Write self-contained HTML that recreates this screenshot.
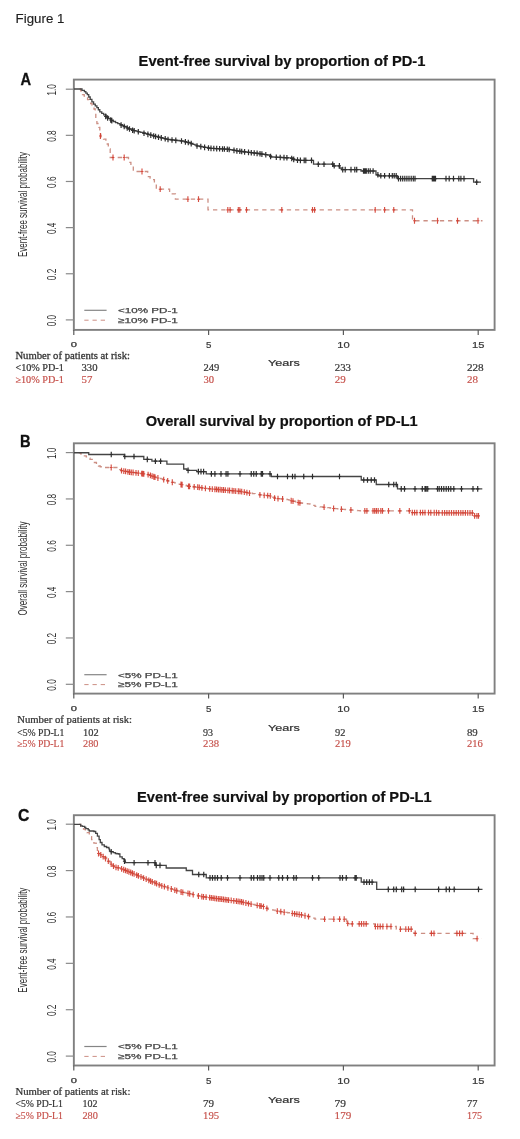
<!DOCTYPE html>
<html><head><meta charset="utf-8"><title>Figure 1</title>
<style>html,body{margin:0;padding:0;background:#fff;}body{width:520px;height:1139px;overflow:hidden;font-family:"Liberation Sans",sans-serif;}svg{display:block;will-change:transform;}</style>
</head><body>
<svg width="520" height="1139" viewBox="0 0 520 1139">
<rect width="520" height="1139" fill="#fff"/>
<text x="15.6" y="22.8" font-family="Liberation Sans" font-size="13.7" font-weight="normal" fill="#1e1e1e" text-anchor="start" textLength="48.8" lengthAdjust="spacingAndGlyphs" stroke="#1e1e1e" stroke-width="0.15" >Figure 1</text>
<rect x="73.85" y="79.6" width="420.75" height="250.3" fill="none" stroke="#808080" stroke-width="1.9"/>
<line x1="65.8" y1="319.90" x2="73.85" y2="319.90" stroke="#8a8a8a" stroke-width="1.2"/>
<text transform="translate(55.8,320.60) rotate(-90) scale(1,1.52)" font-family="Liberation Sans" font-size="8.2" fill="#333333" text-anchor="middle" textLength="11.4" lengthAdjust="spacingAndGlyphs">0.0</text>
<line x1="65.8" y1="273.76" x2="73.85" y2="273.76" stroke="#8a8a8a" stroke-width="1.2"/>
<text transform="translate(55.8,274.46) rotate(-90) scale(1,1.52)" font-family="Liberation Sans" font-size="8.2" fill="#333333" text-anchor="middle" textLength="11.4" lengthAdjust="spacingAndGlyphs">0.2</text>
<line x1="65.8" y1="227.62" x2="73.85" y2="227.62" stroke="#8a8a8a" stroke-width="1.2"/>
<text transform="translate(55.8,228.32) rotate(-90) scale(1,1.52)" font-family="Liberation Sans" font-size="8.2" fill="#333333" text-anchor="middle" textLength="11.4" lengthAdjust="spacingAndGlyphs">0.4</text>
<line x1="65.8" y1="181.48" x2="73.85" y2="181.48" stroke="#8a8a8a" stroke-width="1.2"/>
<text transform="translate(55.8,182.18) rotate(-90) scale(1,1.52)" font-family="Liberation Sans" font-size="8.2" fill="#333333" text-anchor="middle" textLength="11.4" lengthAdjust="spacingAndGlyphs">0.6</text>
<line x1="65.8" y1="135.34" x2="73.85" y2="135.34" stroke="#8a8a8a" stroke-width="1.2"/>
<text transform="translate(55.8,136.04) rotate(-90) scale(1,1.52)" font-family="Liberation Sans" font-size="8.2" fill="#333333" text-anchor="middle" textLength="11.4" lengthAdjust="spacingAndGlyphs">0.8</text>
<line x1="65.8" y1="89.20" x2="73.85" y2="89.20" stroke="#8a8a8a" stroke-width="1.2"/>
<text transform="translate(55.8,89.90) rotate(-90) scale(1,1.52)" font-family="Liberation Sans" font-size="8.2" fill="#333333" text-anchor="middle" textLength="11.4" lengthAdjust="spacingAndGlyphs">1.0</text>
<line x1="73.80" y1="329.9" x2="73.80" y2="334.9" stroke="#5a5a5a" stroke-width="1.2"/>
<text x="73.80" y="346.9" font-family="Liberation Sans" font-size="6.5" font-weight="normal" fill="#3a3a3a" text-anchor="middle" textLength="6.2" lengthAdjust="spacingAndGlyphs" stroke="#3a3a3a" stroke-width="0.25" >0</text>
<line x1="208.60" y1="329.9" x2="208.60" y2="334.9" stroke="#5a5a5a" stroke-width="1.2"/>
<text x="208.60" y="348.09999999999997" font-family="Liberation Sans" font-size="8.6" font-weight="normal" fill="#3a3a3a" text-anchor="middle" textLength="5.4" lengthAdjust="spacingAndGlyphs" stroke="#3a3a3a" stroke-width="0.2" >5</text>
<line x1="343.40" y1="329.9" x2="343.40" y2="334.9" stroke="#5a5a5a" stroke-width="1.2"/>
<text x="343.40" y="348.09999999999997" font-family="Liberation Sans" font-size="8.6" font-weight="normal" fill="#3a3a3a" text-anchor="middle" textLength="12.4" lengthAdjust="spacingAndGlyphs" stroke="#3a3a3a" stroke-width="0.2" >10</text>
<line x1="478.20" y1="329.9" x2="478.20" y2="334.9" stroke="#5a5a5a" stroke-width="1.2"/>
<text x="478.20" y="348.09999999999997" font-family="Liberation Sans" font-size="8.6" font-weight="normal" fill="#3a3a3a" text-anchor="middle" textLength="12.4" lengthAdjust="spacingAndGlyphs" stroke="#3a3a3a" stroke-width="0.2" >15</text>
<text x="267.9" y="366.3" font-family="Liberation Sans" font-size="8.3" font-weight="normal" fill="#333" text-anchor="start" textLength="31.9" lengthAdjust="spacingAndGlyphs" stroke="#333" stroke-width="0.2" >Years</text>
<text transform="translate(27.1,204.55) rotate(-90) scale(1,1.52)" font-family="Liberation Sans" font-size="8.1" fill="#333333" text-anchor="middle" textLength="105" lengthAdjust="spacingAndGlyphs">Event-free survival probability</text>
<text x="138.6" y="66.0" font-family="Liberation Sans" font-size="14" font-weight="bold" fill="#111" text-anchor="start" textLength="286.8" lengthAdjust="spacingAndGlyphs" stroke="#111" stroke-width="0.2" >Event-free survival by proportion of PD-1</text>
<text x="20.4" y="84.8" font-family="Liberation Sans" font-size="17.2" font-weight="bold" fill="#111" text-anchor="start" textLength="10.6" lengthAdjust="spacingAndGlyphs" stroke="#111" stroke-width="0.3" >A</text>
<line x1="84.3" y1="310.30" x2="106.6" y2="310.30" stroke="#858585" stroke-width="1.2"/>
<line x1="84.3" y1="320.20" x2="106.6" y2="320.20" stroke="#cc8f84" stroke-width="1" stroke-dasharray="4.3 3.9"/>
<text x="118.0" y="313.09999999999997" font-family="Liberation Sans" font-size="7.7" font-weight="normal" fill="#444" text-anchor="start" textLength="59.8" lengthAdjust="spacingAndGlyphs" stroke="#444" stroke-width="0.25" >&lt;10% PD-1</text>
<text x="118.0" y="322.5" font-family="Liberation Sans" font-size="7.7" font-weight="normal" fill="#444" text-anchor="start" textLength="59.8" lengthAdjust="spacingAndGlyphs" stroke="#444" stroke-width="0.25" >≥10% PD-1</text>
<rect x="73.85" y="443.3" width="420.75" height="250.3" fill="none" stroke="#808080" stroke-width="1.9"/>
<line x1="65.8" y1="684.30" x2="73.85" y2="684.30" stroke="#8a8a8a" stroke-width="1.2"/>
<text transform="translate(55.8,685.00) rotate(-90) scale(1,1.52)" font-family="Liberation Sans" font-size="8.2" fill="#333333" text-anchor="middle" textLength="11.4" lengthAdjust="spacingAndGlyphs">0.0</text>
<line x1="65.8" y1="637.96" x2="73.85" y2="637.96" stroke="#8a8a8a" stroke-width="1.2"/>
<text transform="translate(55.8,638.66) rotate(-90) scale(1,1.52)" font-family="Liberation Sans" font-size="8.2" fill="#333333" text-anchor="middle" textLength="11.4" lengthAdjust="spacingAndGlyphs">0.2</text>
<line x1="65.8" y1="591.62" x2="73.85" y2="591.62" stroke="#8a8a8a" stroke-width="1.2"/>
<text transform="translate(55.8,592.32) rotate(-90) scale(1,1.52)" font-family="Liberation Sans" font-size="8.2" fill="#333333" text-anchor="middle" textLength="11.4" lengthAdjust="spacingAndGlyphs">0.4</text>
<line x1="65.8" y1="545.28" x2="73.85" y2="545.28" stroke="#8a8a8a" stroke-width="1.2"/>
<text transform="translate(55.8,545.98) rotate(-90) scale(1,1.52)" font-family="Liberation Sans" font-size="8.2" fill="#333333" text-anchor="middle" textLength="11.4" lengthAdjust="spacingAndGlyphs">0.6</text>
<line x1="65.8" y1="498.94" x2="73.85" y2="498.94" stroke="#8a8a8a" stroke-width="1.2"/>
<text transform="translate(55.8,499.64) rotate(-90) scale(1,1.52)" font-family="Liberation Sans" font-size="8.2" fill="#333333" text-anchor="middle" textLength="11.4" lengthAdjust="spacingAndGlyphs">0.8</text>
<line x1="65.8" y1="452.60" x2="73.85" y2="452.60" stroke="#8a8a8a" stroke-width="1.2"/>
<text transform="translate(55.8,453.30) rotate(-90) scale(1,1.52)" font-family="Liberation Sans" font-size="8.2" fill="#333333" text-anchor="middle" textLength="11.4" lengthAdjust="spacingAndGlyphs">1.0</text>
<line x1="73.80" y1="693.6" x2="73.80" y2="698.6" stroke="#5a5a5a" stroke-width="1.2"/>
<text x="73.80" y="710.6" font-family="Liberation Sans" font-size="6.5" font-weight="normal" fill="#3a3a3a" text-anchor="middle" textLength="6.2" lengthAdjust="spacingAndGlyphs" stroke="#3a3a3a" stroke-width="0.25" >0</text>
<line x1="208.60" y1="693.6" x2="208.60" y2="698.6" stroke="#5a5a5a" stroke-width="1.2"/>
<text x="208.60" y="711.8000000000001" font-family="Liberation Sans" font-size="8.6" font-weight="normal" fill="#3a3a3a" text-anchor="middle" textLength="5.4" lengthAdjust="spacingAndGlyphs" stroke="#3a3a3a" stroke-width="0.2" >5</text>
<line x1="343.40" y1="693.6" x2="343.40" y2="698.6" stroke="#5a5a5a" stroke-width="1.2"/>
<text x="343.40" y="711.8000000000001" font-family="Liberation Sans" font-size="8.6" font-weight="normal" fill="#3a3a3a" text-anchor="middle" textLength="12.4" lengthAdjust="spacingAndGlyphs" stroke="#3a3a3a" stroke-width="0.2" >10</text>
<line x1="478.20" y1="693.6" x2="478.20" y2="698.6" stroke="#5a5a5a" stroke-width="1.2"/>
<text x="478.20" y="711.8000000000001" font-family="Liberation Sans" font-size="8.6" font-weight="normal" fill="#3a3a3a" text-anchor="middle" textLength="12.4" lengthAdjust="spacingAndGlyphs" stroke="#3a3a3a" stroke-width="0.2" >15</text>
<text x="267.9" y="730.6999999999999" font-family="Liberation Sans" font-size="8.3" font-weight="normal" fill="#333" text-anchor="start" textLength="31.9" lengthAdjust="spacingAndGlyphs" stroke="#333" stroke-width="0.2" >Years</text>
<text transform="translate(27.1,568.45) rotate(-90) scale(1,1.52)" font-family="Liberation Sans" font-size="8.1" fill="#333333" text-anchor="middle" textLength="94" lengthAdjust="spacingAndGlyphs">Overall survival probability</text>
<text x="145.70000000000002" y="426.20000000000005" font-family="Liberation Sans" font-size="14" font-weight="bold" fill="#111" text-anchor="start" textLength="272.0" lengthAdjust="spacingAndGlyphs" stroke="#111" stroke-width="0.2" >Overall survival by proportion of PD-L1</text>
<text x="20" y="447.0" font-family="Liberation Sans" font-size="17.2" font-weight="bold" fill="#111" text-anchor="start" textLength="10.6" lengthAdjust="spacingAndGlyphs" stroke="#111" stroke-width="0.3" >B</text>
<line x1="84.3" y1="674.70" x2="106.6" y2="674.70" stroke="#858585" stroke-width="1.2"/>
<line x1="84.3" y1="684.60" x2="106.6" y2="684.60" stroke="#cc8f84" stroke-width="1" stroke-dasharray="4.3 3.9"/>
<text x="118.0" y="677.5" font-family="Liberation Sans" font-size="7.7" font-weight="normal" fill="#444" text-anchor="start" textLength="59.8" lengthAdjust="spacingAndGlyphs" stroke="#444" stroke-width="0.25" >&lt;5% PD-L1</text>
<text x="118.0" y="686.9" font-family="Liberation Sans" font-size="7.7" font-weight="normal" fill="#444" text-anchor="start" textLength="59.8" lengthAdjust="spacingAndGlyphs" stroke="#444" stroke-width="0.25" >≥5% PD-L1</text>
<rect x="73.85" y="815.2" width="420.75" height="250.3" fill="none" stroke="#808080" stroke-width="1.9"/>
<line x1="65.8" y1="1056.10" x2="73.85" y2="1056.10" stroke="#8a8a8a" stroke-width="1.2"/>
<text transform="translate(55.8,1056.80) rotate(-90) scale(1,1.52)" font-family="Liberation Sans" font-size="8.2" fill="#333333" text-anchor="middle" textLength="11.4" lengthAdjust="spacingAndGlyphs">0.0</text>
<line x1="65.8" y1="1009.72" x2="73.85" y2="1009.72" stroke="#8a8a8a" stroke-width="1.2"/>
<text transform="translate(55.8,1010.42) rotate(-90) scale(1,1.52)" font-family="Liberation Sans" font-size="8.2" fill="#333333" text-anchor="middle" textLength="11.4" lengthAdjust="spacingAndGlyphs">0.2</text>
<line x1="65.8" y1="963.34" x2="73.85" y2="963.34" stroke="#8a8a8a" stroke-width="1.2"/>
<text transform="translate(55.8,964.04) rotate(-90) scale(1,1.52)" font-family="Liberation Sans" font-size="8.2" fill="#333333" text-anchor="middle" textLength="11.4" lengthAdjust="spacingAndGlyphs">0.4</text>
<line x1="65.8" y1="916.96" x2="73.85" y2="916.96" stroke="#8a8a8a" stroke-width="1.2"/>
<text transform="translate(55.8,917.66) rotate(-90) scale(1,1.52)" font-family="Liberation Sans" font-size="8.2" fill="#333333" text-anchor="middle" textLength="11.4" lengthAdjust="spacingAndGlyphs">0.6</text>
<line x1="65.8" y1="870.58" x2="73.85" y2="870.58" stroke="#8a8a8a" stroke-width="1.2"/>
<text transform="translate(55.8,871.28) rotate(-90) scale(1,1.52)" font-family="Liberation Sans" font-size="8.2" fill="#333333" text-anchor="middle" textLength="11.4" lengthAdjust="spacingAndGlyphs">0.8</text>
<line x1="65.8" y1="824.20" x2="73.85" y2="824.20" stroke="#8a8a8a" stroke-width="1.2"/>
<text transform="translate(55.8,824.90) rotate(-90) scale(1,1.52)" font-family="Liberation Sans" font-size="8.2" fill="#333333" text-anchor="middle" textLength="11.4" lengthAdjust="spacingAndGlyphs">1.0</text>
<line x1="73.80" y1="1065.5" x2="73.80" y2="1070.5" stroke="#5a5a5a" stroke-width="1.2"/>
<text x="73.80" y="1082.5" font-family="Liberation Sans" font-size="6.5" font-weight="normal" fill="#3a3a3a" text-anchor="middle" textLength="6.2" lengthAdjust="spacingAndGlyphs" stroke="#3a3a3a" stroke-width="0.25" >0</text>
<line x1="208.60" y1="1065.5" x2="208.60" y2="1070.5" stroke="#5a5a5a" stroke-width="1.2"/>
<text x="208.60" y="1083.7" font-family="Liberation Sans" font-size="8.6" font-weight="normal" fill="#3a3a3a" text-anchor="middle" textLength="5.4" lengthAdjust="spacingAndGlyphs" stroke="#3a3a3a" stroke-width="0.2" >5</text>
<line x1="343.40" y1="1065.5" x2="343.40" y2="1070.5" stroke="#5a5a5a" stroke-width="1.2"/>
<text x="343.40" y="1083.7" font-family="Liberation Sans" font-size="8.6" font-weight="normal" fill="#3a3a3a" text-anchor="middle" textLength="12.4" lengthAdjust="spacingAndGlyphs" stroke="#3a3a3a" stroke-width="0.2" >10</text>
<line x1="478.20" y1="1065.5" x2="478.20" y2="1070.5" stroke="#5a5a5a" stroke-width="1.2"/>
<text x="478.20" y="1083.7" font-family="Liberation Sans" font-size="8.6" font-weight="normal" fill="#3a3a3a" text-anchor="middle" textLength="12.4" lengthAdjust="spacingAndGlyphs" stroke="#3a3a3a" stroke-width="0.2" >15</text>
<text x="267.9" y="1102.8" font-family="Liberation Sans" font-size="8.3" font-weight="normal" fill="#333" text-anchor="start" textLength="31.9" lengthAdjust="spacingAndGlyphs" stroke="#333" stroke-width="0.2" >Years</text>
<text transform="translate(27.1,940.15) rotate(-90) scale(1,1.52)" font-family="Liberation Sans" font-size="8.1" fill="#333333" text-anchor="middle" textLength="105" lengthAdjust="spacingAndGlyphs">Event-free survival probability</text>
<text x="137.1" y="801.8000000000001" font-family="Liberation Sans" font-size="14" font-weight="bold" fill="#111" text-anchor="start" textLength="294.6" lengthAdjust="spacingAndGlyphs" stroke="#111" stroke-width="0.2" >Event-free survival by proportion of PD-L1</text>
<text x="18.0" y="820.6" font-family="Liberation Sans" font-size="17.2" font-weight="bold" fill="#111" text-anchor="start" textLength="11.4" lengthAdjust="spacingAndGlyphs" stroke="#111" stroke-width="0.3" >C</text>
<line x1="84.3" y1="1046.50" x2="106.6" y2="1046.50" stroke="#858585" stroke-width="1.2"/>
<line x1="84.3" y1="1056.40" x2="106.6" y2="1056.40" stroke="#cc8f84" stroke-width="1" stroke-dasharray="4.3 3.9"/>
<text x="118.0" y="1049.3" font-family="Liberation Sans" font-size="7.7" font-weight="normal" fill="#444" text-anchor="start" textLength="59.8" lengthAdjust="spacingAndGlyphs" stroke="#444" stroke-width="0.25" >&lt;5% PD-L1</text>
<text x="118.0" y="1058.6999999999998" font-family="Liberation Sans" font-size="7.7" font-weight="normal" fill="#444" text-anchor="start" textLength="59.8" lengthAdjust="spacingAndGlyphs" stroke="#444" stroke-width="0.25" >≥5% PD-L1</text>
<polyline points="79.60,89.00 80.60,89.00 80.60,90.80 82.50,90.80 82.50,94.60 84.20,94.60 84.20,96.05 85.90,96.05 85.90,97.50 87.55,97.50 87.55,99.65 89.20,99.65 89.20,101.80 90.65,101.80 90.65,103.50 92.10,103.50 92.10,105.20 94.00,105.20 94.00,109.00 95.20,109.00 95.20,113.80 95.80,113.80 95.80,118.70 96.90,118.70 96.90,123.50 98.80,123.50 98.80,127.30 99.80,127.30 99.80,133.10 100.80,133.10 100.80,137.90 102.15,137.90 102.15,138.55 103.50,138.55 103.50,139.20 105.90,139.20 105.90,144.00 108.30,144.00 108.30,148.80 110.20,148.80 110.20,157.50 126.50,157.50 128.50,157.50 128.50,162.30 130.90,162.30 130.90,166.15 133.30,166.15 133.30,170.00 133.30,171.50 145.80,171.50 147.70,171.50 147.70,176.70 150.10,176.70 150.10,178.15 152.50,178.15 152.50,179.60 154.40,179.60 154.40,182.50 156.30,182.50 156.30,185.40 156.30,189.20 168.50,189.20 169.60,189.20 169.60,193.80 175.40,193.80 175.40,199.20 208.00,199.20 208.00,209.80 412.50,209.80 412.50,220.75 482.50,220.75" fill="none" stroke="#cc8f84" stroke-width="1.3" stroke-dasharray="4.3 3.9" stroke-opacity="1" stroke-linejoin="miter"/>
<path d="M100.40 133.08V138.88M99.00 135.98H101.80M113.00 154.60V160.40M111.60 157.50H114.40M124.20 154.60V160.40M122.80 157.50H125.60M142.00 168.60V174.40M140.60 171.50H143.40M160.20 186.30V192.10M158.80 189.20H161.60M187.90 196.30V202.10M186.50 199.20H189.30M198.50 196.30V202.10M197.10 199.20H199.90M227.80 206.90V212.70M226.40 209.80H229.20M230.10 206.90V212.70M228.70 209.80H231.50M238.30 206.90V212.70M236.90 209.80H239.70M239.80 206.90V212.70M238.40 209.80H241.20M246.50 206.90V212.70M245.10 209.80H247.90M281.80 206.90V212.70M280.40 209.80H283.20M312.50 206.90V212.70M311.10 209.80H313.90M314.60 206.90V212.70M313.20 209.80H316.00M375.20 206.90V212.70M373.80 209.80H376.60M384.60 206.90V212.70M383.20 209.80H386.00M393.75 206.90V212.70M392.35 209.80H395.15M414.50 217.85V223.65M413.10 220.75H415.90M437.50 217.85V223.65M436.10 220.75H438.90M457.50 217.85V223.65M456.10 220.75H458.90M478.00 217.85V223.65M476.60 220.75H479.40" fill="none" stroke="#d23a2c" stroke-width="1.15" stroke-opacity="0.9"/>
<polyline points="73.80,89.00 79.60,89.00 82.00,89.00 82.00,90.35 84.40,90.35 84.40,91.70 85.85,91.70 85.85,93.15 87.30,93.15 87.30,94.60 88.75,94.60 88.75,97.00 90.20,97.00 90.20,99.40 91.90,99.40 91.90,101.80 93.60,101.80 93.60,104.20 95.25,104.20 95.25,105.90 96.90,105.90 96.90,107.60 98.35,107.60 98.35,109.75 99.80,109.75 99.80,111.90 101.75,111.90 101.75,113.35 103.70,113.35 103.70,114.80 106.10,114.80 106.10,116.75 108.50,116.75 108.50,118.70 110.90,118.70 110.90,120.10 113.30,120.10 113.30,121.50 115.53,121.50 115.53,122.53 117.77,122.53 117.77,123.57 120.00,123.57 120.00,124.60 122.30,124.60 122.30,125.68 124.60,125.68 124.60,126.76 126.90,126.76 126.90,127.84 129.20,127.84 129.20,128.92 131.50,128.92 131.50,130.00 133.80,130.00 133.80,130.60 136.10,130.60 136.10,131.20 138.40,131.20 138.40,131.80 140.70,131.80 140.70,132.40 143.00,132.40 143.00,133.00 145.52,133.00 145.52,133.70 148.04,133.70 148.04,134.40 150.56,134.40 150.56,135.10 153.08,135.10 153.08,135.80 155.60,135.80 155.60,136.50 158.08,136.50 158.08,137.10 160.56,137.10 160.56,137.70 163.04,137.70 163.04,138.30 165.52,138.30 165.52,138.90 168.00,138.90 168.00,139.50 170.25,139.50 170.25,139.75 172.50,139.75 172.50,140.00 174.75,140.00 174.75,140.25 177.00,140.25 177.00,140.50 179.25,140.50 179.25,140.75 181.50,140.75 181.50,141.00 184.00,141.00 184.00,141.57 186.50,141.57 186.50,142.13 189.00,142.13 189.00,142.70 191.00,142.70 191.00,143.52 193.00,143.52 193.00,144.35 195.00,144.35 195.00,145.18 197.00,145.18 197.00,146.00 199.60,146.00 199.60,146.46 202.20,146.46 202.20,146.92 204.80,146.92 204.80,147.38 207.40,147.38 207.40,147.84 210.00,147.84 210.00,148.30 212.47,148.30 212.47,148.43 214.94,148.43 214.94,148.56 217.41,148.56 217.41,148.69 219.89,148.69 219.89,148.81 222.36,148.81 222.36,148.94 224.83,148.94 224.83,149.07 227.30,149.07 227.30,149.20 229.60,149.20 229.60,149.60 231.90,149.60 231.90,150.00 234.20,150.00 234.20,150.40 236.50,150.40 236.50,150.80 238.80,150.80 238.80,151.20 241.20,151.20 241.20,151.49 243.60,151.49 243.60,151.77 246.00,151.77 246.00,152.06 248.40,152.06 248.40,152.35 250.80,152.35 250.80,152.64 253.20,152.64 253.20,152.93 255.60,152.93 255.60,153.21 258.00,153.21 258.00,153.50 260.43,153.50 260.43,153.88 262.85,153.88 262.85,154.25 265.27,154.25 265.27,154.62 267.70,154.62 267.70,155.00 269.60,155.00 269.60,156.00 271.50,156.00 271.50,157.00 273.91,157.00 273.91,157.12 276.32,157.12 276.32,157.25 278.74,157.25 278.74,157.38 281.15,157.38 281.15,157.50 283.56,157.50 283.56,157.62 285.98,157.62 285.98,157.75 288.39,157.75 288.39,157.88 290.80,157.88 290.80,158.00 292.70,158.00 292.70,158.90 294.60,158.90 294.60,159.80 296.40,159.80 296.40,160.00 298.20,160.00 298.20,160.20 300.00,160.20 300.00,160.40 313.50,160.40 313.50,164.20 333.00,164.20 333.00,165.80 339.40,165.80 339.40,168.00 341.30,168.00 341.30,169.60 361.00,169.60 361.00,171.00 376.00,171.00 376.00,174.80 378.00,174.80 378.00,175.80 397.40,175.80 397.40,178.60 473.60,178.60 473.60,182.20 481.00,182.20" fill="none" stroke="#444444" stroke-width="1.3" stroke-opacity="1" stroke-linejoin="miter"/>
<path d="M105.70 113.62V119.22M104.10 116.42H107.30M107.60 115.17V120.77M106.00 117.97H109.20M110.70 117.18V122.78M109.10 119.98H112.30M111.80 117.83V123.42M110.20 120.62H113.40M121.10 122.32V127.92M119.50 125.12H122.70M124.20 123.77V129.37M122.60 126.57H125.80M127.20 125.18V130.78M125.60 127.98H128.80M129.50 126.26V131.86M127.90 129.06H131.10M132.60 127.49V133.09M131.00 130.29H134.20M134.20 127.90V133.50M132.60 130.70H135.80M138.30 128.97V134.57M136.70 131.77H139.90M144.00 130.48V136.08M142.40 133.28H145.60M147.90 131.56V137.16M146.30 134.36H149.50M150.80 132.37V137.97M149.20 135.17H152.40M153.70 133.17V138.77M152.10 135.97H155.30M155.60 133.70V139.30M154.00 136.50H157.20M158.50 134.40V140.00M156.90 137.20H160.10M161.30 135.08V140.68M159.70 137.88H162.90M165.20 136.02V141.62M163.60 138.82H166.80M168.00 136.70V142.30M166.40 139.50H169.60M172.00 137.14V142.74M170.40 139.94H173.60M175.80 137.57V143.17M174.20 140.37H177.40M181.50 138.20V143.80M179.90 141.00H183.10M185.40 139.08V144.68M183.80 141.88H187.00M188.30 139.74V145.34M186.70 142.54H189.90M191.20 140.81V146.41M189.60 143.61H192.80M197.00 143.20V148.80M195.40 146.00H198.60M200.80 143.87V149.47M199.20 146.67H202.40M204.60 144.54V150.14M203.00 147.34H206.20M208.50 145.23V150.83M206.90 148.03H210.10M211.00 145.55V151.15M209.40 148.35H212.60M213.80 145.70V151.30M212.20 148.50H215.40M216.70 145.85V151.45M215.10 148.65H218.30M219.60 146.00V151.60M218.00 148.80H221.20M222.50 146.15V151.75M220.90 148.95H224.10M224.40 146.25V151.85M222.80 149.05H226.00M227.30 146.40V152.00M225.70 149.20H228.90M229.20 146.73V152.33M227.60 149.53H230.80M234.00 147.57V153.17M232.40 150.37H235.60M236.90 148.07V153.67M235.30 150.87H238.50M239.80 148.52V154.12M238.20 151.32H241.40M241.70 148.75V154.35M240.10 151.55H243.30M244.60 149.09V154.69M243.00 151.89H246.20M248.50 149.56V155.16M246.90 152.36H250.10M251.30 149.90V155.50M249.70 152.70H252.90M254.20 150.24V155.84M252.60 153.04H255.80M257.10 150.59V156.19M255.50 153.39H258.70M260.00 151.01V156.61M258.40 153.81H261.60M261.90 151.30V156.90M260.30 154.10H263.50M265.80 151.91V157.51M264.20 154.71H267.40M270.60 153.73V159.33M269.00 156.53H272.20M276.30 154.45V160.05M274.70 157.25H277.90M280.20 154.65V160.25M278.60 157.45H281.80M284.00 154.85V160.45M282.40 157.65H285.60M286.90 155.00V160.60M285.30 157.80H288.50M291.70 155.63V161.23M290.10 158.43H293.30M293.70 156.57V162.17M292.10 159.37H295.30M297.50 157.32V162.92M295.90 160.12H299.10M300.40 157.60V163.20M298.80 160.40H302.00M304.20 157.60V163.20M302.60 160.40H305.80M305.80 157.60V163.20M304.20 160.40H307.40M311.50 157.60V163.20M309.90 160.40H313.10M318.30 161.40V167.00M316.70 164.20H319.90M324.00 161.40V167.00M322.40 164.20H325.60M332.70 161.40V167.00M331.10 164.20H334.30M334.20 163.00V168.60M332.60 165.80H335.80M339.40 163.00V168.60M337.80 165.80H341.00M342.70 166.80V172.40M341.10 169.60H344.30M345.20 166.80V172.40M343.60 169.60H346.80M351.00 166.80V172.40M349.40 169.60H352.60M354.80 166.80V172.40M353.20 169.60H356.40M356.70 166.80V172.40M355.10 169.60H358.30M363.50 168.20V173.80M361.90 171.00H365.10M364.50 168.20V173.80M362.90 171.00H366.10M365.50 168.20V173.80M363.90 171.00H367.10M366.30 168.20V173.80M364.70 171.00H367.90M368.30 168.20V173.80M366.70 171.00H369.90M370.20 168.20V173.80M368.60 171.00H371.80M373.10 168.20V173.80M371.50 171.00H374.70M377.90 172.00V177.60M376.30 174.80H379.50M380.80 173.00V178.60M379.20 175.80H382.40M384.60 173.00V178.60M383.00 175.80H386.20M389.40 173.00V178.60M387.80 175.80H391.00M392.30 173.00V178.60M390.70 175.80H393.90M394.20 173.00V178.60M392.60 175.80H395.80M396.20 173.00V178.60M394.60 175.80H397.80M398.50 175.80V181.40M396.90 178.60H400.10M400.60 175.80V181.40M399.00 178.60H402.20M402.70 175.80V181.40M401.10 178.60H404.30M404.80 175.80V181.40M403.20 178.60H406.40M406.90 175.80V181.40M405.30 178.60H408.50M409.00 175.80V181.40M407.40 178.60H410.60M411.20 175.80V181.40M409.60 178.60H412.80M413.30 175.80V181.40M411.70 178.60H414.90M415.00 175.80V181.40M413.40 178.60H416.60M432.30 175.80V181.40M430.70 178.60H433.90M433.30 175.80V181.40M431.70 178.60H434.90M434.30 175.80V181.40M432.70 178.60H435.90M435.50 175.80V181.40M433.90 178.60H437.10M446.00 175.80V181.40M444.40 178.60H447.60M449.20 175.80V181.40M447.60 178.60H450.80M453.50 175.80V181.40M451.90 178.60H455.10M458.80 175.80V181.40M457.20 178.60H460.40M460.90 175.80V181.40M459.30 178.60H462.50M464.00 175.80V181.40M462.40 178.60H465.60M476.70 179.40V185.00M475.10 182.20H478.30" fill="none" stroke="#2e2e2e" stroke-width="1.2" stroke-opacity="1"/>
<polyline points="78.75,452.75 80.62,452.75 80.62,453.88 82.50,453.88 82.50,455.00 84.38,455.00 84.38,455.95 86.25,455.95 86.25,456.90 88.12,456.90 88.12,458.15 90.00,458.15 90.00,459.40 92.20,459.40 92.20,460.95 94.40,460.95 94.40,462.50 96.45,462.50 96.45,464.25 98.50,464.25 98.50,466.00 100.20,466.00 100.20,466.75 101.90,466.75 101.90,467.50 116.90,467.50 118.10,467.50 118.10,468.80 119.80,468.80 119.80,469.70 121.50,469.70 121.50,470.60 123.53,470.60 123.53,470.98 125.55,470.98 125.55,471.35 127.57,471.35 127.57,471.73 129.60,471.73 129.60,472.10 131.92,472.10 131.92,472.38 134.24,472.38 134.24,472.66 136.56,472.66 136.56,472.94 138.88,472.94 138.88,473.22 141.20,473.22 141.20,473.50 143.50,473.50 143.50,473.87 145.80,473.87 145.80,474.23 148.10,474.23 148.10,474.60 150.40,474.60 150.40,475.47 152.70,475.47 152.70,476.33 155.00,476.33 155.00,477.20 157.03,477.20 157.03,477.75 159.05,477.75 159.05,478.30 161.07,478.30 161.07,478.85 163.10,478.85 163.10,479.40 165.00,479.40 165.00,480.00 166.90,480.00 166.90,480.60 168.80,480.60 168.80,481.20 170.73,481.20 170.73,481.77 172.67,481.77 172.67,482.33 174.60,482.33 174.60,482.90 176.90,482.90 176.90,483.47 179.20,483.47 179.20,484.03 181.50,484.03 181.50,484.60 183.83,484.60 183.83,485.17 186.17,485.17 186.17,485.73 188.50,485.73 188.50,486.30 190.80,486.30 190.80,486.52 193.10,486.52 193.10,486.75 195.40,486.75 195.40,486.98 197.70,486.98 197.70,487.20 200.13,487.20 200.13,487.60 202.57,487.60 202.57,488.00 205.00,488.00 205.00,488.40 207.50,488.40 207.50,488.62 210.00,488.62 210.00,488.83 212.50,488.83 212.50,489.05 215.00,489.05 215.00,489.27 217.50,489.27 217.50,489.48 220.00,489.48 220.00,489.70 222.50,489.70 222.50,489.91 225.00,489.91 225.00,490.12 227.50,490.12 227.50,490.34 230.00,490.34 230.00,490.55 232.50,490.55 232.50,490.76 235.00,490.76 235.00,490.97 237.50,490.97 237.50,491.19 240.00,491.19 240.00,491.40 242.50,491.40 242.50,491.85 245.00,491.85 245.00,492.30 247.50,492.30 247.50,492.75 250.00,492.75 250.00,493.20 252.50,493.20 252.50,493.62 255.00,493.62 255.00,494.05 257.50,494.05 257.50,494.47 260.00,494.47 260.00,494.90 262.50,494.90 262.50,495.12 265.00,495.12 265.00,495.35 267.50,495.35 267.50,495.57 270.00,495.57 270.00,495.80 272.50,495.80 272.50,497.10 275.00,497.10 275.00,498.40 277.50,498.40 277.50,498.60 280.00,498.60 280.00,498.80 282.50,498.80 282.50,499.00 285.00,499.00 285.00,499.20 287.00,499.20 287.00,499.70 289.00,499.70 289.00,500.20 291.00,500.20 291.00,500.70 293.25,500.70 293.25,501.27 295.50,501.27 295.50,501.85 297.75,501.85 297.75,502.43 300.00,502.43 300.00,503.00 302.50,503.00 302.50,503.30 305.00,503.30 305.00,503.60 307.50,503.60 307.50,503.90 310.00,503.90 310.00,504.20 312.50,504.20 312.50,505.30 315.00,505.30 315.00,506.40 317.50,506.40 317.50,506.62 320.00,506.62 320.00,506.85 322.50,506.85 322.50,507.07 325.00,507.07 325.00,507.30 327.50,507.30 327.50,507.65 330.00,507.65 330.00,508.00 332.50,508.00 332.50,508.35 335.00,508.35 335.00,508.70 337.50,508.70 337.50,508.90 340.00,508.90 340.00,509.10 342.50,509.10 342.50,509.30 345.00,509.30 345.00,509.50 347.50,509.50 347.50,509.70 350.00,509.70 350.00,509.90 352.50,509.90 352.50,510.15 355.00,510.15 355.00,510.40 357.50,510.40 357.50,510.65 360.00,510.65 360.00,510.90 410.20,510.90 410.20,512.60 412.67,512.60 412.67,512.62 415.15,512.62 415.15,512.63 417.62,512.63 417.62,512.65 420.09,512.65 420.09,512.66 422.57,512.66 422.57,512.68 425.04,512.68 425.04,512.69 427.51,512.69 427.51,512.71 429.98,512.71 429.98,512.72 432.46,512.72 432.46,512.74 434.93,512.74 434.93,512.75 437.40,512.75 437.40,512.77 439.88,512.77 439.88,512.78 442.35,512.78 442.35,512.80 444.82,512.80 444.82,512.82 447.30,512.82 447.30,512.83 449.77,512.83 449.77,512.85 452.24,512.85 452.24,512.86 454.72,512.86 454.72,512.88 457.19,512.88 457.19,512.89 459.66,512.89 459.66,512.91 462.13,512.91 462.13,512.92 464.61,512.92 464.61,512.94 467.08,512.94 467.08,512.95 469.55,512.95 469.55,512.97 472.03,512.97 472.03,512.98 474.50,512.98 474.50,513.00 474.50,515.80 482.30,515.80" fill="none" stroke="#cc8f84" stroke-width="1.3" stroke-dasharray="4.3 3.9" stroke-opacity="1" stroke-linejoin="miter"/>
<path d="M111.20 464.60V470.40M109.80 467.50H112.60M121.50 467.70V473.50M120.10 470.60H122.90M123.80 468.13V473.93M122.40 471.03H125.20M125.60 468.46V474.26M124.20 471.36H127.00M127.90 468.89V474.69M126.50 471.79H129.30M129.60 469.20V475.00M128.20 472.10H131.00M131.30 469.41V475.21M129.90 472.31H132.70M133.10 469.62V475.42M131.70 472.52H134.50M136.00 469.97V475.77M134.60 472.87H137.40M138.30 470.25V476.05M136.90 473.15H139.70M141.70 470.68V476.48M140.30 473.58H143.10M142.80 470.86V476.66M141.40 473.76H144.20M143.80 471.01V476.81M142.40 473.91H145.20M148.10 471.70V477.50M146.70 474.60H149.50M150.40 472.57V478.37M149.00 475.47H151.80M152.10 473.21V479.01M150.70 476.11H153.50M153.80 473.85V479.65M152.40 476.75H155.20M155.00 474.30V480.10M153.60 477.20H156.40M157.90 475.09V480.89M156.50 477.99H159.30M163.70 476.69V482.49M162.30 479.59H165.10M167.70 477.95V483.75M166.30 480.85H169.10M172.30 479.33V485.13M170.90 482.23H173.70M181.00 481.58V487.38M179.60 484.48H182.40M182.10 481.85V487.65M180.70 484.75H183.50M188.50 483.40V489.20M187.10 486.30H189.90M189.60 483.51V489.31M188.20 486.41H191.00M194.20 483.96V489.76M192.80 486.86H195.60M197.70 484.30V490.10M196.30 487.20H199.10M199.30 484.56V490.36M197.90 487.46H200.70M201.90 484.99V490.79M200.50 487.89H203.30M205.40 485.53V491.33M204.00 488.43H206.80M209.70 485.91V491.71M208.30 488.81H211.10M212.30 486.13V491.93M210.90 489.03H213.70M214.90 486.36V492.16M213.50 489.26H216.30M216.60 486.51V492.31M215.20 489.41H218.00M218.40 486.66V492.46M217.00 489.56H219.80M220.10 486.81V492.61M218.70 489.71H221.50M221.80 486.95V492.75M220.40 489.85H223.20M223.50 487.10V492.90M222.10 490.00H224.90M225.30 487.25V493.05M223.90 490.15H226.70M227.90 487.47V493.27M226.50 490.37H229.30M229.60 487.62V493.42M228.20 490.52H231.00M232.20 487.84V493.64M230.80 490.74H233.60M233.90 487.98V493.78M232.50 490.88H235.30M235.70 488.13V493.93M234.30 491.03H237.10M238.30 488.36V494.16M236.90 491.26H239.70M240.00 488.50V494.30M238.60 491.40H241.40M241.70 488.81V494.61M240.30 491.71H243.10M244.30 489.27V495.07M242.90 492.17H245.70M246.90 489.74V495.54M245.50 492.64H248.30M249.50 490.21V496.01M248.10 493.11H250.90M259.90 491.98V497.78M258.50 494.88H261.30M264.20 492.38V498.18M262.80 495.28H265.60M267.70 492.69V498.49M266.30 495.59H269.10M270.30 493.06V498.86M268.90 495.96H271.70M274.60 495.29V501.09M273.20 498.19H276.00M278.00 495.74V501.54M276.60 498.64H279.40M282.60 496.11V501.91M281.20 499.01H284.00M291.20 497.85V503.65M289.80 500.75H292.60M293.00 498.31V504.11M291.60 501.21H294.40M298.20 499.64V505.44M296.80 502.54H299.60M299.90 500.07V505.87M298.50 502.97H301.30M324.10 504.32V510.12M322.70 507.22H325.50M333.60 505.60V511.40M332.20 508.50H335.00M341.40 506.31V512.11M340.00 509.21H342.80M350.90 507.09V512.89M349.50 509.99H352.30M364.80 508.00V513.80M363.40 510.90H366.20M366.90 508.00V513.80M365.50 510.90H368.30M373.00 508.00V513.80M371.60 510.90H374.40M374.70 508.00V513.80M373.30 510.90H376.10M376.40 508.00V513.80M375.00 510.90H377.80M378.20 508.00V513.80M376.80 510.90H379.60M380.80 508.00V513.80M379.40 510.90H382.20M382.50 508.00V513.80M381.10 510.90H383.90M388.50 508.00V513.80M387.10 510.90H389.90M399.80 508.00V513.80M398.40 510.90H401.20M409.30 508.00V513.80M407.90 510.90H410.70M412.30 509.71V515.51M410.90 512.61H413.70M414.60 509.73V515.53M413.20 512.63H416.00M416.90 509.74V515.54M415.50 512.64H418.30M420.40 509.76V515.56M419.00 512.66H421.80M422.70 509.78V515.58M421.30 512.68H424.10M425.00 509.79V515.59M423.60 512.69H426.40M428.50 509.81V515.61M427.10 512.71H429.90M430.80 509.83V515.63M429.40 512.73H432.20M434.20 509.85V515.65M432.80 512.75H435.60M436.50 509.86V515.66M435.10 512.76H437.90M438.80 509.88V515.68M437.40 512.78H440.20M442.30 509.90V515.70M440.90 512.80H443.70M444.60 509.91V515.71M443.20 512.81H446.00M446.90 509.93V515.73M445.50 512.83H448.30M449.20 509.94V515.74M447.80 512.84H450.60M451.50 509.96V515.76M450.10 512.86H452.90M453.80 509.97V515.77M452.40 512.87H455.20M456.20 509.99V515.79M454.80 512.89H457.60M458.50 510.00V515.80M457.10 512.90H459.90M460.80 510.01V515.81M459.40 512.91H462.20M463.00 510.03V515.83M461.60 512.93H464.40M465.40 510.04V515.84M464.00 512.94H466.80M467.70 510.06V515.86M466.30 512.96H469.10M470.00 510.07V515.87M468.60 512.97H471.40M472.30 510.09V515.89M470.90 512.99H473.70M474.60 512.90V518.70M473.20 515.80H476.00M476.90 512.90V518.70M475.50 515.80H478.30M478.50 512.90V518.70M477.10 515.80H479.90" fill="none" stroke="#d23a2c" stroke-width="1.15" stroke-opacity="0.9"/>
<polyline points="73.75,452.75 88.75,452.75 88.75,454.50 124.20,454.50 124.20,456.50 143.80,456.50 143.80,459.40 151.90,459.40 151.90,461.20 166.90,461.20 166.90,464.20 183.70,464.20 183.70,469.00 187.00,469.00 187.00,470.40 196.70,470.40 196.70,471.60 206.20,471.60 206.20,473.90 271.25,473.90 271.25,476.50 361.25,476.50 361.25,480.00 376.25,480.00 376.25,484.50 397.50,484.50 397.50,488.90 482.30,488.90" fill="none" stroke="#444444" stroke-width="1.3" stroke-opacity="1" stroke-linejoin="miter"/>
<path d="M111.25 451.70V457.30M109.65 454.50H112.85M124.80 453.70V459.30M123.20 456.50H126.40M134.00 453.70V459.30M132.40 456.50H135.60M147.30 456.60V462.20M145.70 459.40H148.90M155.40 458.40V464.00M153.80 461.20H157.00M160.60 458.40V464.00M159.00 461.20H162.20M188.10 467.60V473.20M186.50 470.40H189.70M198.40 468.80V474.40M196.80 471.60H200.00M201.00 468.80V474.40M199.40 471.60H202.60M203.60 468.80V474.40M202.00 471.60H205.20M211.40 471.10V476.70M209.80 473.90H213.00M214.90 471.10V476.70M213.30 473.90H216.50M221.00 471.10V476.70M219.40 473.90H222.60M226.10 471.10V476.70M224.50 473.90H227.70M227.90 471.10V476.70M226.30 473.90H229.50M240.00 471.10V476.70M238.40 473.90H241.60M251.25 471.10V476.70M249.65 473.90H252.85M253.75 471.10V476.70M252.15 473.90H255.35M256.25 471.10V476.70M254.65 473.90H257.85M261.25 471.10V476.70M259.65 473.90H262.85M262.50 471.10V476.70M260.90 473.90H264.10M270.00 471.10V476.70M268.40 473.90H271.60M277.50 473.70V479.30M275.90 476.50H279.10M287.50 473.70V479.30M285.90 476.50H289.10M292.50 473.70V479.30M290.90 476.50H294.10M295.00 473.70V479.30M293.40 476.50H296.60M303.75 473.70V479.30M302.15 476.50H305.35M312.50 473.70V479.30M310.90 476.50H314.10M339.50 473.70V479.30M337.90 476.50H341.10M363.75 477.20V482.80M362.15 480.00H365.35M367.50 477.20V482.80M365.90 480.00H369.10M371.25 477.20V482.80M369.65 480.00H372.85M374.50 477.20V482.80M372.90 480.00H376.10M388.75 481.70V487.30M387.15 484.50H390.35M393.75 481.70V487.30M392.15 484.50H395.35M396.25 481.70V487.30M394.65 484.50H397.85M401.25 486.10V491.70M399.65 488.90H402.85M404.50 486.10V491.70M402.90 488.90H406.10M415.00 486.10V491.70M413.40 488.90H416.60M422.30 486.10V491.70M420.70 488.90H423.90M425.00 486.10V491.70M423.40 488.90H426.60M426.20 486.10V491.70M424.60 488.90H427.80M427.70 486.10V491.70M426.10 488.90H429.30M437.50 486.10V491.70M435.90 488.90H439.10M439.20 486.10V491.70M437.60 488.90H440.80M441.50 486.10V491.70M439.90 488.90H443.10M443.80 486.10V491.70M442.20 488.90H445.40M446.20 486.10V491.70M444.60 488.90H447.80M448.50 486.10V491.70M446.90 488.90H450.10M450.80 486.10V491.70M449.20 488.90H452.40M453.80 486.10V491.70M452.20 488.90H455.40M461.50 486.10V491.70M459.90 488.90H463.10M473.00 486.10V491.70M471.40 488.90H474.60M477.70 486.10V491.70M476.10 488.90H479.30" fill="none" stroke="#2e2e2e" stroke-width="1.2" stroke-opacity="1"/>
<polyline points="78.90,824.30 80.70,824.30 80.70,826.30 82.10,826.30 82.10,827.75 83.50,827.75 83.50,829.20 85.25,829.20 85.25,830.95 87.00,830.95 87.00,832.70 89.30,832.70 89.30,836.70 91.60,836.70 91.60,839.60 93.90,839.60 93.90,843.10 96.20,843.10 96.20,847.70 97.40,847.70 97.40,851.20 98.50,851.20 98.50,853.50 100.25,853.50 100.25,854.65 102.00,854.65 102.00,855.80 104.30,855.80 104.30,857.50 106.60,857.50 106.60,859.80 108.35,859.80 108.35,861.25 110.10,861.25 110.10,862.70 112.40,862.70 112.40,865.60 114.10,865.60 114.10,866.45 115.80,866.45 115.80,867.30 118.15,867.30 118.15,867.90 120.50,867.90 120.50,868.50 122.88,868.50 122.88,869.42 125.25,869.42 125.25,870.35 127.62,870.35 127.62,871.28 130.00,871.28 130.00,872.20 132.50,872.20 132.50,873.28 135.00,873.28 135.00,874.35 137.50,874.35 137.50,875.42 140.00,875.42 140.00,876.50 142.50,876.50 142.50,877.58 145.00,877.58 145.00,878.65 147.50,878.65 147.50,879.72 150.00,879.72 150.00,880.80 152.50,880.80 152.50,881.90 155.00,881.90 155.00,883.00 157.50,883.00 157.50,884.10 160.00,884.10 160.00,885.20 162.50,885.20 162.50,886.05 165.00,886.05 165.00,886.90 167.50,886.90 167.50,887.75 170.00,887.75 170.00,888.60 172.50,888.60 172.50,889.40 175.00,889.40 175.00,890.20 177.50,890.20 177.50,891.00 180.00,891.00 180.00,891.80 182.50,891.80 182.50,892.30 185.00,892.30 185.00,892.80 187.50,892.80 187.50,893.30 190.00,893.30 190.00,893.80 192.50,893.80 192.50,894.45 195.00,894.45 195.00,895.10 197.50,895.10 197.50,895.75 200.00,895.75 200.00,896.40 202.50,896.40 202.50,896.73 205.00,896.73 205.00,897.05 207.50,897.05 207.50,897.38 210.00,897.38 210.00,897.70 212.50,897.70 212.50,898.02 215.00,898.02 215.00,898.35 217.50,898.35 217.50,898.67 220.00,898.67 220.00,899.00 222.50,899.00 222.50,899.33 225.00,899.33 225.00,899.65 227.50,899.65 227.50,899.98 230.00,899.98 230.00,900.30 232.50,900.30 232.50,900.62 235.00,900.62 235.00,900.95 237.50,900.95 237.50,901.27 240.00,901.27 240.00,901.60 242.50,901.60 242.50,902.18 245.00,902.18 245.00,902.77 247.50,902.77 247.50,903.35 250.00,903.35 250.00,903.93 252.50,903.93 252.50,904.52 255.00,904.52 255.00,905.10 257.50,905.10 257.50,905.52 260.00,905.52 260.00,905.95 262.50,905.95 262.50,906.38 265.00,906.38 265.00,906.80 266.50,906.80 266.50,908.05 268.00,908.05 268.00,909.30 270.40,909.30 270.40,909.76 272.80,909.76 272.80,910.22 275.20,910.22 275.20,910.68 277.60,910.68 277.60,911.14 280.00,911.14 280.00,911.60 282.50,911.60 282.50,911.98 285.00,911.98 285.00,912.35 287.50,912.35 287.50,912.73 290.00,912.73 290.00,913.10 292.50,913.10 292.50,913.48 295.00,913.48 295.00,913.85 297.50,913.85 297.50,914.23 300.00,914.23 300.00,914.60 302.50,914.60 302.50,915.17 305.00,915.17 305.00,915.75 307.50,915.75 307.50,916.33 310.00,916.33 310.00,916.90 312.50,916.90 312.50,918.05 315.00,918.05 315.00,919.20 345.00,919.20 346.50,919.20 346.50,921.50 348.00,921.50 348.00,923.80 374.80,923.80 374.80,926.50 396.30,926.50 396.30,929.20 413.80,929.20 413.80,933.30 473.10,933.30 473.10,938.70 481.20,938.70" fill="none" stroke="#cc8f84" stroke-width="1.3" stroke-dasharray="4.3 3.9" stroke-opacity="1" stroke-linejoin="miter"/>
<path d="M98.50 850.60V856.40M97.10 853.50H99.90M100.80 852.11V857.91M99.40 855.01H102.20M103.20 853.79V859.59M101.80 856.69H104.60M105.50 855.80V861.60M104.10 858.70H106.90M108.30 858.31V864.11M106.90 861.21H109.70M111.20 861.19V866.99M109.80 864.09H112.60M113.50 863.25V869.05M112.10 866.15H114.90M116.00 864.45V870.25M114.60 867.35H117.40M118.20 865.01V870.81M116.80 867.91H119.60M121.60 866.03V871.83M120.20 868.93H123.00M123.70 866.85V872.65M122.30 869.75H125.10M125.50 867.55V873.35M124.10 870.45H126.90M127.20 868.21V874.01M125.80 871.11H128.60M128.90 868.87V874.67M127.50 871.77H130.30M130.70 869.60V875.40M129.30 872.50H132.10M132.40 870.33V876.13M131.00 873.23H133.80M134.10 871.06V876.86M132.70 873.96H135.50M136.70 872.18V877.98M135.30 875.08H138.10M138.40 872.91V878.71M137.00 875.81H139.80M141.00 874.03V879.83M139.60 876.93H142.40M143.60 875.15V880.95M142.20 878.05H145.00M146.20 876.27V882.07M144.80 879.17H147.60M148.80 877.38V883.18M147.40 880.28H150.20M150.60 878.16V883.96M149.20 881.06H152.00M152.30 878.91V884.71M150.90 881.81H153.70M154.90 880.06V885.86M153.50 882.96H156.30M156.60 880.80V886.60M155.20 883.70H158.00M159.20 881.95V887.75M157.80 884.85H160.60M161.80 882.91V888.71M160.40 885.81H163.20M164.40 883.80V889.60M163.00 886.70H165.80M167.90 884.99V890.79M166.50 887.89H169.30M171.30 886.12V891.92M169.90 889.02H172.70M174.80 887.24V893.04M173.40 890.14H176.20M176.70 887.84V893.64M175.30 890.74H178.10M181.10 889.12V894.92M179.70 892.02H182.50M182.80 889.46V895.26M181.40 892.36H184.20M188.00 890.50V896.30M186.60 893.40H189.40M189.70 890.84V896.64M188.30 893.74H191.10M193.20 891.73V897.53M191.80 894.63H194.60M198.40 893.08V898.88M197.00 895.98H199.80M201.80 893.73V899.53M200.40 896.63H203.20M203.50 893.96V899.75M202.10 896.86H204.90M206.10 894.29V900.09M204.70 897.19H207.50M209.60 894.75V900.55M208.20 897.65H211.00M211.30 894.97V900.77M209.90 897.87H212.70M213.10 895.20V901.00M211.70 898.10H214.50M214.80 895.42V901.22M213.40 898.32H216.20M216.50 895.64V901.44M215.10 898.54H217.90M218.30 895.88V901.68M216.90 898.78H219.70M220.00 896.10V901.90M218.60 899.00H221.40M221.70 896.32V902.12M220.30 899.22H223.10M223.40 896.54V902.34M222.00 899.44H224.80M225.20 896.78V902.58M223.80 899.68H226.60M226.90 897.00V902.80M225.50 899.90H228.30M228.60 897.22V903.02M227.20 900.12H230.00M231.20 897.56V903.36M229.80 900.46H232.60M233.80 897.89V903.69M232.40 900.79H235.20M236.40 898.23V904.03M235.00 901.13H237.80M238.10 898.45V904.25M236.70 901.35H239.50M239.90 898.69V904.49M238.50 901.59H241.30M241.60 899.07V904.87M240.20 901.97H243.00M243.30 899.47V905.27M241.90 902.37H244.70M245.90 900.08V905.88M244.50 902.98H247.30M248.50 900.68V906.48M247.10 903.58H249.90M251.10 901.29V907.09M249.70 904.19H252.50M257.20 902.57V908.37M255.80 905.47H258.60M259.80 903.02V908.82M258.40 905.92H261.20M261.20 903.25V909.05M259.80 906.15H262.60M263.50 903.64V909.44M262.10 906.54H264.90M266.90 905.48V911.28M265.50 908.38H268.30M277.30 908.18V913.98M275.90 911.08H278.70M280.80 908.82V914.62M279.40 911.72H282.20M284.20 909.33V915.13M282.80 912.23H285.60M292.30 910.55V916.35M290.90 913.45H293.70M294.60 910.89V916.69M293.20 913.79H296.00M296.90 911.24V917.03M295.50 914.13H298.30M299.20 911.58V917.38M297.80 914.48H300.60M301.50 912.05V917.85M300.10 914.95H302.90M305.00 912.85V918.65M303.60 915.75H306.40M308.50 913.65V919.45M307.10 916.55H309.90M324.60 916.30V922.10M323.20 919.20H326.00M333.80 916.30V922.10M332.40 919.20H335.20M339.60 916.30V922.10M338.20 919.20H341.00M344.20 916.30V922.10M342.80 919.20H345.60M347.70 920.44V926.24M346.30 923.34H349.10M352.30 920.90V926.70M350.90 923.80H353.70M359.20 920.90V926.70M357.80 923.80H360.60M361.50 920.90V926.70M360.10 923.80H362.90M363.80 920.90V926.70M362.40 923.80H365.20M366.20 920.90V926.70M364.80 923.80H367.60M375.40 923.60V929.40M374.00 926.50H376.80M377.70 923.60V929.40M376.30 926.50H379.10M380.20 923.60V929.40M378.80 926.50H381.60M382.90 923.60V929.40M381.50 926.50H384.30M386.90 923.60V929.40M385.50 926.50H388.30M391.00 923.60V929.40M389.60 926.50H392.40M400.40 926.30V932.10M399.00 929.20H401.80M405.80 926.30V932.10M404.40 929.20H407.20M408.50 926.30V932.10M407.10 929.20H409.90M411.20 926.30V932.10M409.80 929.20H412.60M415.20 930.40V936.20M413.80 933.30H416.60M431.40 930.40V936.20M430.00 933.30H432.80M434.00 930.40V936.20M432.60 933.30H435.40M456.90 930.40V936.20M455.50 933.30H458.30M459.60 930.40V936.20M458.20 933.30H461.00M462.30 930.40V936.20M460.90 933.30H463.70M477.10 935.80V941.60M475.70 938.70H478.50" fill="none" stroke="#d23a2c" stroke-width="1.15" stroke-opacity="0.9"/>
<polyline points="73.75,824.30 78.90,824.30 80.70,824.30 80.70,825.80 82.40,825.80 82.40,826.30 84.70,826.30 84.70,827.50 85.80,827.50 85.80,828.70 88.20,828.70 88.20,829.80 89.30,829.80 89.30,831.00 92.20,831.00 93.90,831.00 93.90,831.50 95.70,831.50 95.70,833.30 97.40,833.30 97.40,836.20 99.10,836.20 99.10,839.60 100.30,839.60 100.30,842.50 102.00,842.50 102.00,844.80 104.30,844.80 104.30,846.50 106.60,846.50 106.60,847.50 108.90,847.50 108.90,848.80 109.50,848.80 109.50,851.20 111.20,851.20 111.20,851.70 113.25,851.70 113.25,852.60 115.30,852.60 115.30,853.50 117.00,853.50 117.00,853.75 118.70,853.75 118.70,854.00 119.90,854.00 119.90,856.90 122.20,856.90 122.20,858.70 123.90,858.70 123.90,859.80 125.10,859.80 125.10,862.70 155.00,862.70 155.00,865.40 166.20,865.40 166.20,868.00 186.25,868.00 186.25,870.50 192.50,870.50 192.50,874.50 206.25,874.50 206.25,877.90 361.25,877.90 361.25,882.10 376.70,882.10 376.70,889.40 482.50,889.40" fill="none" stroke="#444444" stroke-width="1.3" stroke-opacity="1" stroke-linejoin="miter"/>
<path d="M111.20 848.90V854.50M109.60 851.70H112.80M124.50 858.45V864.05M122.90 861.25H126.10M134.10 859.90V865.50M132.50 862.70H135.70M148.00 859.90V865.50M146.40 862.70H149.60M155.00 859.90V865.50M153.40 862.70H156.60M156.25 862.60V868.20M154.65 865.40H157.85M160.00 862.60V868.20M158.40 865.40H161.60M198.75 871.70V877.30M197.15 874.50H200.35M203.75 871.70V877.30M202.15 874.50H205.35M210.00 875.10V880.70M208.40 877.90H211.60M212.50 875.10V880.70M210.90 877.90H214.10M215.00 875.10V880.70M213.40 877.90H216.60M217.50 875.10V880.70M215.90 877.90H219.10M221.25 875.10V880.70M219.65 877.90H222.85M227.50 875.10V880.70M225.90 877.90H229.10M240.00 875.10V880.70M238.40 877.90H241.60M251.25 875.10V880.70M249.65 877.90H252.85M253.75 875.10V880.70M252.15 877.90H255.35M257.50 875.10V880.70M255.90 877.90H259.10M260.00 875.10V880.70M258.40 877.90H261.60M262.00 875.10V880.70M260.40 877.90H263.60M263.75 875.10V880.70M262.15 877.90H265.35M270.00 875.10V880.70M268.40 877.90H271.60M278.75 875.10V880.70M277.15 877.90H280.35M282.50 875.10V880.70M280.90 877.90H284.10M287.50 875.10V880.70M285.90 877.90H289.10M293.75 875.10V880.70M292.15 877.90H295.35M296.25 875.10V880.70M294.65 877.90H297.85M312.50 875.10V880.70M310.90 877.90H314.10M318.75 875.10V880.70M317.15 877.90H320.35M340.00 875.10V880.70M338.40 877.90H341.60M342.50 875.10V880.70M340.90 877.90H344.10M346.25 875.10V880.70M344.65 877.90H347.85M355.00 875.10V880.70M353.40 877.90H356.60M356.25 875.10V880.70M354.65 877.90H357.85M364.00 879.30V884.90M362.40 882.10H365.60M366.70 879.30V884.90M365.10 882.10H368.30M369.40 879.30V884.90M367.80 882.10H371.00M372.10 879.30V884.90M370.50 882.10H373.70M388.30 886.60V892.20M386.70 889.40H389.90M393.70 886.60V892.20M392.10 889.40H395.30M396.30 886.60V892.20M394.70 889.40H397.90M401.70 886.60V892.20M400.10 889.40H403.30M403.60 886.60V892.20M402.00 889.40H405.20M415.20 886.60V892.20M413.60 889.40H416.80M438.60 886.60V892.20M437.00 889.40H440.20M446.20 886.60V892.20M444.60 889.40H447.80M449.40 886.60V892.20M447.80 889.40H451.00M454.20 886.60V892.20M452.60 889.40H455.80M478.50 886.60V892.20M476.90 889.40H480.10" fill="none" stroke="#2e2e2e" stroke-width="1.2" stroke-opacity="1"/>
<text x="15.4" y="359.2" font-family="Liberation Serif" font-size="9.3" font-weight="normal" fill="#363636" text-anchor="start" textLength="114.6" lengthAdjust="spacingAndGlyphs" stroke="#363636" stroke-width="0.27" >Number of patients at risk:</text>
<text x="15.4" y="371.2" font-family="Liberation Serif" font-size="9.6" font-weight="normal" fill="#363636" text-anchor="start" textLength="48.4" lengthAdjust="spacingAndGlyphs" stroke="#363636" stroke-width="0.225" >&lt;10% PD-1</text>
<text x="15.4" y="382.8" font-family="Liberation Serif" font-size="9.6" font-weight="normal" fill="#c6514b" text-anchor="start" textLength="48.4" lengthAdjust="spacingAndGlyphs" stroke="#c6514b" stroke-width="0.18000000000000002" >≥10% PD-1</text>
<text x="81.5" y="371.2" font-family="Liberation Serif" font-size="10.4" font-weight="normal" fill="#363636" text-anchor="start" textLength="16.0" lengthAdjust="spacingAndGlyphs" stroke="#363636" stroke-width="0.225" >330</text>
<text x="81.5" y="382.8" font-family="Liberation Serif" font-size="10.4" font-weight="normal" fill="#c6514b" text-anchor="start" textLength="10.8" lengthAdjust="spacingAndGlyphs" stroke="#c6514b" stroke-width="0.18000000000000002" >57</text>
<text x="203.5" y="371.2" font-family="Liberation Serif" font-size="10.4" font-weight="normal" fill="#363636" text-anchor="start" textLength="15.8" lengthAdjust="spacingAndGlyphs" stroke="#363636" stroke-width="0.225" >249</text>
<text x="203.5" y="382.8" font-family="Liberation Serif" font-size="10.4" font-weight="normal" fill="#c6514b" text-anchor="start" textLength="10.6" lengthAdjust="spacingAndGlyphs" stroke="#c6514b" stroke-width="0.18000000000000002" >30</text>
<text x="334.8" y="371.2" font-family="Liberation Serif" font-size="10.4" font-weight="normal" fill="#363636" text-anchor="start" textLength="16.2" lengthAdjust="spacingAndGlyphs" stroke="#363636" stroke-width="0.225" >233</text>
<text x="334.8" y="382.8" font-family="Liberation Serif" font-size="10.4" font-weight="normal" fill="#c6514b" text-anchor="start" textLength="11.0" lengthAdjust="spacingAndGlyphs" stroke="#c6514b" stroke-width="0.18000000000000002" >29</text>
<text x="466.9" y="371.2" font-family="Liberation Serif" font-size="10.4" font-weight="normal" fill="#363636" text-anchor="start" textLength="16.8" lengthAdjust="spacingAndGlyphs" stroke="#363636" stroke-width="0.225" >228</text>
<text x="466.9" y="382.8" font-family="Liberation Serif" font-size="10.4" font-weight="normal" fill="#c6514b" text-anchor="start" textLength="11.0" lengthAdjust="spacingAndGlyphs" stroke="#c6514b" stroke-width="0.18000000000000002" >28</text>
<text x="17.2" y="722.9" font-family="Liberation Serif" font-size="9.3" font-weight="normal" fill="#363636" text-anchor="start" textLength="114.8" lengthAdjust="spacingAndGlyphs" stroke="#363636" stroke-width="0.24" >Number of patients at risk:</text>
<text x="17.2" y="735.6" font-family="Liberation Serif" font-size="9.6" font-weight="normal" fill="#363636" text-anchor="start" textLength="47.2" lengthAdjust="spacingAndGlyphs" stroke="#363636" stroke-width="0.2" >&lt;5% PD-L1</text>
<text x="17.2" y="747.3" font-family="Liberation Serif" font-size="9.6" font-weight="normal" fill="#c6514b" text-anchor="start" textLength="47.2" lengthAdjust="spacingAndGlyphs" stroke="#c6514b" stroke-width="0.16000000000000003" >≥5% PD-L1</text>
<text x="83.0" y="735.6" font-family="Liberation Serif" font-size="10.2" font-weight="normal" fill="#363636" text-anchor="start" textLength="15.6" lengthAdjust="spacingAndGlyphs" stroke="#363636" stroke-width="0.2" >102</text>
<text x="83.0" y="747.3" font-family="Liberation Serif" font-size="10.2" font-weight="normal" fill="#c6514b" text-anchor="start" textLength="15.4" lengthAdjust="spacingAndGlyphs" stroke="#c6514b" stroke-width="0.16000000000000003" >280</text>
<text x="203.1" y="735.6" font-family="Liberation Serif" font-size="10.2" font-weight="normal" fill="#363636" text-anchor="start" textLength="10.0" lengthAdjust="spacingAndGlyphs" stroke="#363636" stroke-width="0.2" >93</text>
<text x="203.1" y="747.3" font-family="Liberation Serif" font-size="10.2" font-weight="normal" fill="#c6514b" text-anchor="start" textLength="16.0" lengthAdjust="spacingAndGlyphs" stroke="#c6514b" stroke-width="0.16000000000000003" >238</text>
<text x="335.0" y="735.6" font-family="Liberation Serif" font-size="10.2" font-weight="normal" fill="#363636" text-anchor="start" textLength="10.4" lengthAdjust="spacingAndGlyphs" stroke="#363636" stroke-width="0.2" >92</text>
<text x="335.0" y="747.3" font-family="Liberation Serif" font-size="10.2" font-weight="normal" fill="#c6514b" text-anchor="start" textLength="15.8" lengthAdjust="spacingAndGlyphs" stroke="#c6514b" stroke-width="0.16000000000000003" >219</text>
<text x="466.9" y="735.6" font-family="Liberation Serif" font-size="10.2" font-weight="normal" fill="#363636" text-anchor="start" textLength="10.8" lengthAdjust="spacingAndGlyphs" stroke="#363636" stroke-width="0.2" >89</text>
<text x="466.9" y="747.3" font-family="Liberation Serif" font-size="10.2" font-weight="normal" fill="#c6514b" text-anchor="start" textLength="15.8" lengthAdjust="spacingAndGlyphs" stroke="#c6514b" stroke-width="0.16000000000000003" >216</text>
<text x="15.4" y="1095.3" font-family="Liberation Serif" font-size="9.3" font-weight="normal" fill="#363636" text-anchor="start" textLength="115.0" lengthAdjust="spacingAndGlyphs" stroke="#363636" stroke-width="0.24" >Number of patients at risk:</text>
<text x="15.4" y="1107.0" font-family="Liberation Serif" font-size="9.6" font-weight="normal" fill="#363636" text-anchor="start" textLength="47.4" lengthAdjust="spacingAndGlyphs" stroke="#363636" stroke-width="0.2" >&lt;5% PD-L1</text>
<text x="15.4" y="1119.0" font-family="Liberation Serif" font-size="9.6" font-weight="normal" fill="#c6514b" text-anchor="start" textLength="47.4" lengthAdjust="spacingAndGlyphs" stroke="#c6514b" stroke-width="0.16000000000000003" >≥5% PD-L1</text>
<text x="82.4" y="1107.0" font-family="Liberation Serif" font-size="10.2" font-weight="normal" fill="#363636" text-anchor="start" textLength="15.0" lengthAdjust="spacingAndGlyphs" stroke="#363636" stroke-width="0.2" >102</text>
<text x="82.4" y="1119.0" font-family="Liberation Serif" font-size="10.2" font-weight="normal" fill="#c6514b" text-anchor="start" textLength="15.4" lengthAdjust="spacingAndGlyphs" stroke="#c6514b" stroke-width="0.16000000000000003" >280</text>
<text x="203.1" y="1107.0" font-family="Liberation Serif" font-size="10.2" font-weight="normal" fill="#363636" text-anchor="start" textLength="11.0" lengthAdjust="spacingAndGlyphs" stroke="#363636" stroke-width="0.2" >79</text>
<text x="203.1" y="1119.0" font-family="Liberation Serif" font-size="10.2" font-weight="normal" fill="#c6514b" text-anchor="start" textLength="16.0" lengthAdjust="spacingAndGlyphs" stroke="#c6514b" stroke-width="0.16000000000000003" >195</text>
<text x="334.6" y="1107.0" font-family="Liberation Serif" font-size="10.2" font-weight="normal" fill="#363636" text-anchor="start" textLength="11.4" lengthAdjust="spacingAndGlyphs" stroke="#363636" stroke-width="0.2" >79</text>
<text x="334.6" y="1119.0" font-family="Liberation Serif" font-size="10.2" font-weight="normal" fill="#c6514b" text-anchor="start" textLength="16.6" lengthAdjust="spacingAndGlyphs" stroke="#c6514b" stroke-width="0.16000000000000003" >179</text>
<text x="467.1" y="1107.0" font-family="Liberation Serif" font-size="10.2" font-weight="normal" fill="#363636" text-anchor="start" textLength="10.4" lengthAdjust="spacingAndGlyphs" stroke="#363636" stroke-width="0.2" >77</text>
<text x="467.1" y="1119.0" font-family="Liberation Serif" font-size="10.2" font-weight="normal" fill="#c6514b" text-anchor="start" textLength="15.0" lengthAdjust="spacingAndGlyphs" stroke="#c6514b" stroke-width="0.16000000000000003" >175</text>
</svg>
</body></html>
